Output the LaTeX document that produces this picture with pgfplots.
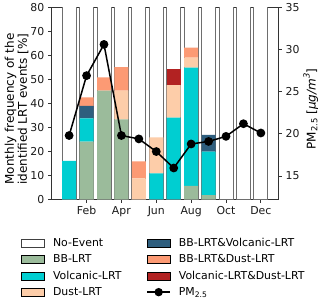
\documentclass[border=0pt]{standalone}
\usepackage{fontspec}
\setmainfont{DejaVu Sans}
\usepackage{pgfplots}
\pgfplotsset{compat=1.18}
\definecolor{cBB}{HTML}{9BBB9B}
\definecolor{cV}{HTML}{00CED1}
\definecolor{cD}{HTML}{FDCDA9}
\definecolor{cBV}{HTML}{2E5E7E}
\definecolor{cBD}{HTML}{FC9A74}
\definecolor{cVD}{HTML}{B22222}
\definecolor{edge}{HTML}{6E6E6E}
\newcommand{\fs}{\fontsize{10.9bp}{13bp}\selectfont}
\newcommand{\fl}{\fontsize{12bp}{13bp}\selectfont}
\pgfplotsset{
  base/.style={scale only axis, width=226.6bp, height=192bp, xmin=0, xmax=13,
    at={(0,0)}, anchor=south west, font=\fs,
    /pgf/number format/assume math mode=true,
    tick align=outside, major tick length=3.5bp,
    every tick/.style={black!80, line width=0.8bp},
    axis line style={black!80, line width=0.8bp},
    tick label style={black!90}},
  boxlegend/.style={legend image code/.code={\draw[##1] (0bp,-4bp) rectangle (23bp,4bp);}},
  pmlegend/.style={legend image code/.code={\draw[mark repeat=2,mark phase=2,##1] plot coordinates {(0bp,0bp) (11.5bp,0bp) (23bp,0bp)};}},
}
\begin{document}
\fs
\begin{tikzpicture}
\useasboundingbox (-51.7bp,-101.7bp) rectangle (268.3bp,199.3bp);
% No-Event background bars (remainder to 100 %)
\begin{axis}[base, ymin=0, ymax=80, ybar stacked, bar width=0.8,
  ytick={0,10,...,80}, xtick={2,4,...,12}, xticklabels={Feb,Apr,Jun,Aug,Oct,Dec},
  ytick pos=left, xtick pos=bottom,
  ylabel={Monthly frequency of the\\identified LRT events [\%]},
  ylabel style={align=center, at={(axis description cs:-0.155,0.47)}, anchor=center, font=\fl}]
\addplot[fill=white, draw=edge, line width=0.9bp] table {
x y
1 100
2 100
3 100
4 100
5 100
6 100
7 100
8 100
9 100
10 100
11 100
12 100
};
\end{axis}
% stacked event bars
\begin{axis}[base, ymin=0, ymax=80, ybar stacked, bar width=0.8, hide axis]
\addplot[fill=cBB, draw=none] table {
x y
1 0
2 24
3 45.3
4 33.3
5 0
6 0
7 0
8 5.6
9 1.7
10 0
11 0
12 0
};
\addplot[fill=cV, draw=none] table {
x y
1 16
2 9.75
3 0
4 0
5 0
6 10.8
7 34
8 49.3
9 18.2
10 0
11 0
12 0
};
\addplot[fill=cD, draw=none] table {
x y
1 0
2 0
3 0
4 12
5 8.75
6 15
7 13.6
8 4.1
9 0
10 0
11 0
12 0
};
\addplot[fill=cBV, draw=none] table {
x y
1 0
2 5.15
3 0
4 0
5 0
6 0
7 0
8 0
9 6.9
10 0
11 0
12 0
};
\addplot[fill=cBD, draw=none] table {
x y
1 0
2 3.6
3 5.5
4 9.8
5 7.05
6 0
7 0
8 4.2
9 0
10 0
11 0
12 0
};
\addplot[fill=cVD, draw=none] table {
x y
1 0
2 0
3 0
4 0
5 0
6 0
7 6.6
8 0
9 0
10 0
11 0
12 0
};
\end{axis}
% PM2.5 on right axis
\begin{axis}[base, ymin=12.24, ymax=35, axis y line*=right, axis x line=none,
  ytick={15,20,...,35},
  ylabel={PM\raisebox{-0.3ex}{\fontsize{8.4bp}{9bp}\selectfont 2.5} [{\itshape μg/m}\raisebox{0.9ex}{\fontsize{8.4bp}{9bp}\selectfont\itshape 3}]},
  ylabel style={at={(axis description cs:1.143,0.47)}, anchor=center, font=\fl},
  legend style={at={(axis description cs:-0.1355,-0.192)}, anchor=north west,
    draw=none, fill=none, inner sep=0pt, font=\fs, row sep=2.5bp,
    /tikz/every odd column/.append style={column sep=6bp},
    /tikz/every even column/.append style={column sep=23bp}},
  legend columns=2, legend cell align=left]
\addlegendimage{boxlegend, fill=white, draw=black!75, line width=0.9bp}
\addlegendentry{No-Event}
\addlegendimage{boxlegend, fill=cBV, draw=none}
\addlegendentry{BB-LRT\&Volcanic-LRT}
\addlegendimage{boxlegend, fill=cBB, draw=none}
\addlegendentry{BB-LRT}
\addlegendimage{boxlegend, fill=cBD, draw=none}
\addlegendentry{BB-LRT\&Dust-LRT}
\addlegendimage{boxlegend, fill=cV, draw=none}
\addlegendentry{Volcanic-LRT}
\addlegendimage{boxlegend, fill=cVD, draw=none}
\addlegendentry{Volcanic-LRT\&Dust-LRT}
\addlegendimage{boxlegend, fill=cD, draw=none}
\addlegendentry{Dust-LRT}
\addlegendimage{pmlegend, black, line width=1.5bp, mark=*, mark size=3.4bp, mark options={fill=black}}
\addlegendentry{PM\raisebox{-0.3ex}{\fontsize{7.6bp}{8bp}\selectfont 2.5}}
\addplot[black, line width=1.5bp, mark=*, mark size=3.6bp, mark options={fill=black}] table {
x y
1 19.8
2 26.9
3 30.6
4 19.8
5 19.4
6 17.9
7 15.95
8 18.8
9 19.1
10 19.7
11 21.2
12 20.1
};
\end{axis}
\end{tikzpicture}
\end{document}
